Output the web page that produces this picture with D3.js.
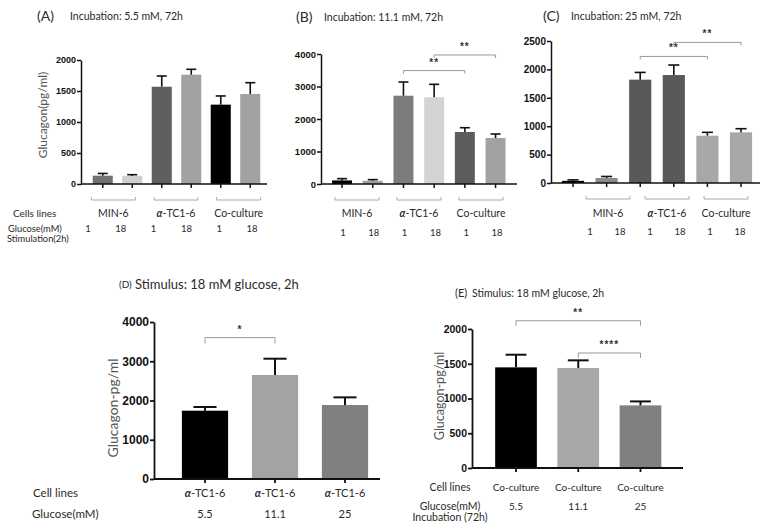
<!DOCTYPE html>
<html><head><meta charset="utf-8">
<script src="https://cdn.jsdelivr.net/npm/d3@7"></script>
<style>body{margin:0;background:#fff} svg{display:block}</style>
</head><body>
<svg id="c" width="773" height="529"></svg>
<script>
// ---------- data ----------
const groupsABC = ["MIN-6", "α-TC1-6", "Co-culture"];
const glucoseABC = ["1", "18", "1", "18", "1", "18"];

const valuesA = [134, 130, 1569, 1763, 1280, 1452];
const errorsA = [36, 20, 173, 87, 140, 182];
const ticksA = [0, 500, 1000, 1500, 2000];
const colorsA = ["#727272", "#cfcfcf", "#5f5f5f", "#a2a2a2", "#000000", "#a2a2a2"];

const valuesB = [110, 100, 2717, 2666, 1600, 1415];
const errorsB = [55, 35, 421, 401, 132, 123];
const ticksB = [0, 1000, 2000, 3000, 4000];
const colorsB = ["#000000", "#a0a0a0", "#7d7d7d", "#d3d3d3", "#5c5c5c", "#a2a2a2"];
const sigB = [{a: 2, b: 4, y: 3490, t: "**"}, {a: 3, b: 5, y: 3970, t: "**"}];

const valuesC = [38, 88, 1819, 1901, 833, 892];
const errorsC = [17, 27, 128, 176, 59, 64];
const ticksC = [0, 500, 1000, 1500, 2000, 2500];
const colorsC = ["#000000", "#8a8a8a", "#595959", "#595959", "#a8a8a8", "#a8a8a8"];
const sigC = [{a: 2, b: 4, y: 2228, t: "**"}, {a: 3, b: 5, y: 2475, t: "**"}];

const categoriesD = ["α-TC1-6", "α-TC1-6", "α-TC1-6"];
const glucoseD = ["5.5", "11.1", "25"];
const valuesD = [1740, 2650, 1885];
const errorsD = [94, 415, 195];
const ticksD = [0, 1000, 2000, 3000, 4000];
const colorsD = ["#000000", "#a3a3a3", "#808080"];
const sigD = [{a: 0, b: 1, y: 3603, t: "*"}];

const categoriesE = ["Co-culture", "Co-culture", "Co-culture"];
const glucoseE = ["5.5", "11.1", "25"];
const valuesE = [1448, 1439, 901];
const errorsE = [182, 110, 57];
const ticksE = [0, 500, 1000, 1500, 2000];
const colorsE = ["#000000", "#a8a8a8", "#808080"];
const sigE = [{a: 0, b: 2, y: 2119, t: "**"}, {a: 1, b: 2, y: 1655, t: "****"}];

// ---------- drawing ----------
const svg = d3.select("#c");
svg.append("rect").attr("width", 773).attr("height", 529).attr("fill", "#fff");
const LAB = "Lato, 'Open Sans', sans-serif";
const TICK = "'Liberation Sans', Arial, sans-serif";
const TXT = "#2a2a2a";

function labelText(g, s) {
  // render α in italic
  if (s.startsWith("α")) {
    g.append("tspan").attr("font-style", "italic").attr("font-weight", "bold").text("α");
    g.append("tspan").text(s.slice(1));
  } else g.text(s);
}

function panel(cfg) {
  const g = svg.append("g");
  const n = cfg.values.length;
  const x = d3.scaleBand().domain(d3.range(n)).range(cfg.xr)
    .paddingInner(cfg.pad).paddingOuter(cfg.pad / 2);
  const y = d3.scaleLinear().domain([0, d3.max(cfg.ticks)]).range(cfg.yr);
  const bw = x.bandwidth();
  const cx = i => x(i) + bw / 2;

  // bars
  g.selectAll(".bar").data(cfg.values).join("rect")
    .attr("x", (d, i) => x(i)).attr("width", bw)
    .attr("y", d => y(d)).attr("height", d => y(0) - y(d))
    .attr("fill", (d, i) => cfg.colors[i]);

  // error bars (upper)
  const eb = g.selectAll(".eb").data(cfg.values).join("g");
  eb.append("line")
    .attr("x1", (d, i) => cx(i)).attr("x2", (d, i) => cx(i))
    .attr("y1", d => y(d)).attr("y2", (d, i) => y(d + cfg.errors[i]))
    .attr("stroke", "#111").attr("stroke-width", cfg.ew);
  eb.append("line")
    .attr("x1", (d, i) => cx(i) - bw / 4).attr("x2", (d, i) => cx(i) + bw / 4)
    .attr("y1", (d, i) => y(d + cfg.errors[i])).attr("y2", (d, i) => y(d + cfg.errors[i]))
    .attr("stroke", "#111").attr("stroke-width", cfg.ew);

  // y axis
  const ya = g.append("g").attr("transform", `translate(${cfg.ax[0]},0)`)
    .call(d3.axisLeft(y).tickValues(cfg.ticks).tickFormat(d3.format("d"))
      .tickSize(4).tickSizeOuter(0).tickPadding(1));
  ya.select(".domain").attr("stroke", "#111").attr("stroke-width", cfg.aw);
  ya.selectAll(".tick line").attr("stroke", "#111").attr("stroke-width", cfg.aw);
  ya.selectAll(".tick text").attr("font-family", TICK).attr("font-weight", "bold")
    .attr("font-size", cfg.tfs).attr("fill", "#111");

  // x axis line + ticks
  g.append("line").attr("x1", cfg.ax[0]).attr("x2", cfg.ax[1])
    .attr("y1", y(0)).attr("y2", y(0)).attr("stroke", "#111").attr("stroke-width", cfg.aw);
  g.selectAll(".xt").data(cfg.values).join("line")
    .attr("x1", (d, i) => cx(i)).attr("x2", (d, i) => cx(i))
    .attr("y1", y(0)).attr("y2", y(0) + 4).attr("stroke", "#111").attr("stroke-width", cfg.aw);

  // significance brackets
  (cfg.sig || []).forEach(s => {
    const yy = y(s.y), x1 = cx(s.a), x2 = cx(s.b);
    g.append("path").attr("d", `M${x1},${yy + cfg.leg}V${yy}H${x2}V${yy + cfg.leg}`)
      .attr("fill", "none").attr("stroke", "#9a9a9a").attr("stroke-width", 1);
    g.append("text").attr("x", (x1 + x2) / 2).attr("y", yy - 5)
      .attr("text-anchor", "middle").attr("font-family", TICK).attr("font-weight", "bold")
      .attr("font-size", 10).attr("fill", "#333").attr("letter-spacing", 1).text(s.t);
  });

  // titles
  g.append("text").attr("x", cfg.title.x).attr("y", cfg.title.y).attr("dy", "0.35em")
    .attr("font-family", LAB).attr("font-size", cfg.title.fs1).attr("fill", TXT).text(cfg.title.tag);
  g.append("text").attr("x", cfg.title.x2).attr("y", cfg.title.y).attr("dy", "0.35em")
    .attr("font-family", LAB).attr("font-size", cfg.title.fs2).attr("fill", TXT).text(cfg.title.text);

  // y label
  if (cfg.ylab) {
    g.append("text").attr("transform", `translate(${cfg.ylab.x},${cfg.ylab.y}) rotate(-90)`)
      .attr("text-anchor", "middle").attr("dy", "0.35em")
      .attr("font-family", LAB).attr("font-size", cfg.ylab.fs).attr("fill", "#555").text(cfg.ylab.text);
  }
  return {x, y, g};
}

function groupRows(g, cfg) {
  // group brackets and labels under x axis
  const gx = d3.scaleBand().domain(groupsABC).range(cfg.gr);
  groupsABC.forEach(s => {
    const c = gx(s) + gx.bandwidth() / 2;
    g.append("path").attr("d", `M${c - 22},${cfg.by - 3}V${cfg.by}H${c + 22}V${cfg.by - 3}`)
      .attr("fill", "none").attr("stroke", "#aaa").attr("stroke-width", 1);
    labelText(g.append("text").attr("x", c).attr("y", cfg.gy).attr("dy", "0.35em")
      .attr("text-anchor", "middle").attr("font-family", LAB).attr("font-size", 10.5).attr("fill", TXT), s);
  });
  const nx = d3.scaleBand().domain(d3.range(glucoseABC.length)).range(cfg.nr);
  g.selectAll(".num").data(glucoseABC).join("text")
    .attr("x", (d, i) => nx(i) + nx.bandwidth() / 2).attr("y", cfg.ny).attr("dy", "0.35em")
    .attr("text-anchor", "middle").attr("font-family", LAB).attr("font-size", 9.5).attr("fill", TXT)
    .text(d => d);
}

// Panel A
const pA = panel({values: valuesA, errors: errorsA, ticks: ticksA, colors: colorsA,
  xr: [88, 265], pad: 0.32, yr: [184, 60], ax: [81, 267], aw: 1.5, ew: 1.6, tfs: 9, leg: 3,
  title: {tag: "(A)", text: "Incubation: 5.5 mM, 72h", x: 37, x2: 70, y: 16, fs1: 14, fs2: 10.5},
  ylab: {text: "Glucagon(pg/ml)", x: 43, y: 115, fs: 12}});
groupRows(pA.g, {gr: [82, 270], by: 200, gy: 213, nr: [71.6, 268.4], ny: 229});
// row labels of A
[["Cells lines", 13, 213, 10], ["Glucose(mM)", 8, 228.5, 9.3], ["Stimulation(2h)", 7, 238.5, 9.3]].forEach(r => {
  svg.append("text").attr("x", r[1]).attr("y", r[2]).attr("dy", "0.35em")
    .attr("font-family", LAB).attr("font-size", r[3]).attr("fill", TXT).text(r[0]);
});

// Panel B
const pB = panel({values: valuesB, errors: errorsB, ticks: ticksB, colors: colorsB, sig: sigB,
  xr: [326.7, 510.9], pad: 0.35, yr: [184, 54], ax: [321, 517], aw: 1.5, ew: 1.6, tfs: 9.5, leg: 3,
  title: {tag: "(B)", text: "Incubation: 11.1 mM, 72h", x: 296, x2: 324, y: 17, fs1: 14, fs2: 10.5}});
groupRows(pB.g, {gr: [326, 512], by: 200, gy: 213, nr: [327.6, 512.4], ny: 232.5});

// Panel C
const pC = panel({values: valuesC, errors: errorsC, ticks: ticksC, colors: colorsC, sig: sigC,
  xr: [556.2, 757.8], pad: 0.34, yr: [183, 41], ax: [551, 760], aw: 1.5, ew: 1.6, tfs: 10, leg: 3,
  title: {tag: "(C)", text: "Incubation: 25 mM, 72h", x: 543, x2: 571, y: 16, fs1: 14, fs2: 10.5}});
groupRows(pC.g, {gr: [578.5, 755.5], by: 199, gy: 213, nr: [575, 755], ny: 232});

// Panel D
const pD = panel({values: valuesD, errors: errorsD, ticks: ticksD, colors: colorsD, sig: sigD,
  xr: [170, 380], pad: 0.34, yr: [479, 322], ax: [154, 380], aw: 1.8, ew: 2, tfs: 12, leg: 6,
  title: {tag: "(D)", text: "Stimulus: 18 mM glucose, 2h", x: 119, x2: 135, y: 284, fs1: 10, fs2: 13},
  ylab: {text: "Glucagon-pg/ml", x: 113, y: 408, fs: 14}});
pD.g.selectAll(".cat").data(categoriesD).join("text")
  .attr("x", (d, i) => pD.x(i) + pD.x.bandwidth() / 2).attr("y", 493).attr("dy", "0.35em")
  .attr("text-anchor", "middle").attr("font-family", LAB).attr("font-size", 11).attr("fill", TXT)
  .each(function(d) { labelText(d3.select(this), d); });
pD.g.selectAll(".glu").data(glucoseD).join("text")
  .attr("x", (d, i) => pD.x(i) + pD.x.bandwidth() / 2).attr("y", 514).attr("dy", "0.35em")
  .attr("text-anchor", "middle").attr("font-family", LAB).attr("font-size", 11).attr("fill", TXT)
  .text(d => d);
[["Cell lines", 33, 493], ["Glucose(mM)", 32, 514]].forEach(r => {
  svg.append("text").attr("x", r[1]).attr("y", r[2]).attr("dy", "0.35em")
    .attr("font-family", LAB).attr("font-size", 11.5).attr("fill", TXT).text(r[0]);
});

// Panel E
const pE = panel({values: valuesE, errors: errorsE, ticks: ticksE, colors: colorsE, sig: sigE,
  xr: [484.9, 671.6], pad: 0.33, yr: [468, 329], ax: [472, 683], aw: 1.8, ew: 2, tfs: 10.5, leg: 5,
  title: {tag: "(E)", text: "Stimulus: 18 mM glucose, 2h", x: 455, x2: 472, y: 293, fs1: 11, fs2: 10.5},
  ylab: {text: "Glucagon-pg/ml", x: 440, y: 396, fs: 12.5}});
pE.g.selectAll(".cat").data(categoriesE).join("text")
  .attr("x", (d, i) => pE.x(i) + pE.x.bandwidth() / 2).attr("y", 487).attr("dy", "0.35em")
  .attr("text-anchor", "middle").attr("font-family", LAB).attr("font-size", 10).attr("fill", TXT)
  .text(d => d);
pE.g.selectAll(".glu").data(glucoseE).join("text")
  .attr("x", (d, i) => pE.x(i) + pE.x.bandwidth() / 2).attr("y", 506).attr("dy", "0.35em")
  .attr("text-anchor", "middle").attr("font-family", LAB).attr("font-size", 10).attr("fill", TXT)
  .text(d => d);
[["Cell lines", 487], ["Glucose(mM)", 506], ["Incubation (72h)", 517]].forEach(r => {
  svg.append("text").attr("x", 450).attr("y", r[1]).attr("dy", "0.35em").attr("text-anchor", "middle")
    .attr("font-family", LAB).attr("font-size", 10.5).attr("fill", TXT).text(r[0]);
});
</script>
</body></html>
